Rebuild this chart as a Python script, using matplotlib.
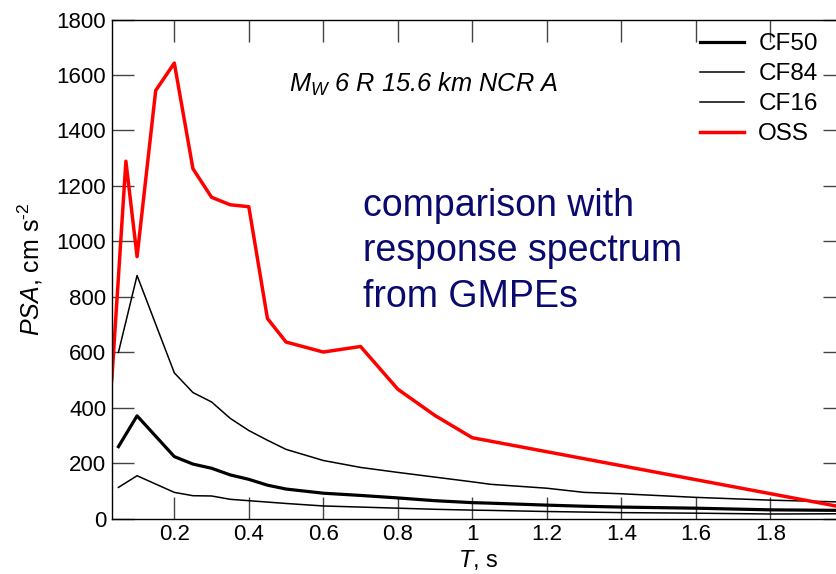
import numpy as np
import matplotlib
matplotlib.use('Agg')
import matplotlib.pyplot as plt

plt.rcParams['font.family'] = ['Liberation Sans', 'DejaVu Sans']
plt.rcParams['mathtext.fontset'] = 'custom'
plt.rcParams['mathtext.it'] = 'Liberation Sans:italic'
plt.rcParams['mathtext.rm'] = 'Liberation Sans'

# response spectra (T in s, PSA in cm s^-2)
T_oss = [0.032, 0.07, 0.1, 0.15, 0.2, 0.25, 0.3, 0.35, 0.4, 0.45, 0.5, 0.6, 0.7, 0.8, 0.9, 1.0, 2.0]
oss = [498, 1289, 945, 1544, 1643, 1262, 1159, 1132, 1125, 722, 637, 601, 621, 467, 372, 292, 40]

T_cf = [0.05, 0.1, 0.2, 0.25, 0.3, 0.35, 0.4, 0.45, 0.5, 0.6, 0.7, 0.8, 0.9, 1.0, 1.05, 1.2, 1.3, 1.4, 1.6, 1.8, 2.0]
cf50 = [260, 371, 224, 197, 182, 158, 142, 121, 107, 92, 84, 75, 65, 58, 56, 49, 45, 42, 38, 32, 30]
cf84 = [600, 877, 526, 455, 421, 362, 318, 283, 250, 210, 185, 167, 150, 133, 124, 110, 95, 90, 77, 67, 60]
cf16 = [113, 155, 95, 83, 82, 70, 65, 60, 55, 46, 42, 38, 34, 31, 30, 26, 24, 22, 20, 17, 18]

fig = plt.figure(figsize=(8.37, 5.74), dpi=100)
ax = fig.add_axes([0.1335, 0.0963, 0.8758, 0.8697])

ax.plot(T_cf, cf50, color='k', lw=2.3, label='CF50')
ax.plot(T_cf, cf84, color='k', lw=1.1, label='CF84')
ax.plot(T_cf, cf16, color='k', lw=1.1, label='CF16')
ax.plot(T_oss, oss, color='#ff0000', lw=2.5, label='OSS')

ax.set_xlim(0.032, 2.0)
ax.set_ylim(0, 1800)
ax.set_xticks([0.2, 0.4, 0.6, 0.8, 1.0, 1.2, 1.4, 1.6, 1.8])
ax.set_xticklabels(['0.2', '0.4', '0.6', '0.8', '1', '1.2', '1.4', '1.6', '1.8'])
ax.set_yticks(range(0, 1801, 200))
ax.tick_params(direction='in', length=15.5, width=1, color='#444444',
               labelsize=16, top=True, right=True, pad=4)
for s in ax.spines.values():
    s.set_linewidth(1)

ax.set_xlabel(r'$T$, s', fontsize=17, labelpad=2)
ax.set_ylabel(r'$PSA$, cm s$^{\text{-2}}$', fontsize=18, labelpad=8)

ax.text(0.509, 1538, r'$M_W$ 6 R 15.6 km NCR A', style='italic',
        fontsize=18.3, va='baseline', ha='left')
# va='baseline' pins the last line here
ax.text(0.707, 764, 'comparison with\nresponse spectrum\nfrom GMPEs',
        color='#0a0a6e', fontsize=27, va='baseline', ha='left', linespacing=1.34)

fig.legend(loc='upper left', bbox_to_anchor=(700 / 837, 1 - 33 / 574), frameon=False,
           fontsize=17.5, handlelength=1.8, handletextpad=0.6, labelspacing=0.33,
           borderpad=0, borderaxespad=0)

fig.savefig('out.png', dpi=100)
